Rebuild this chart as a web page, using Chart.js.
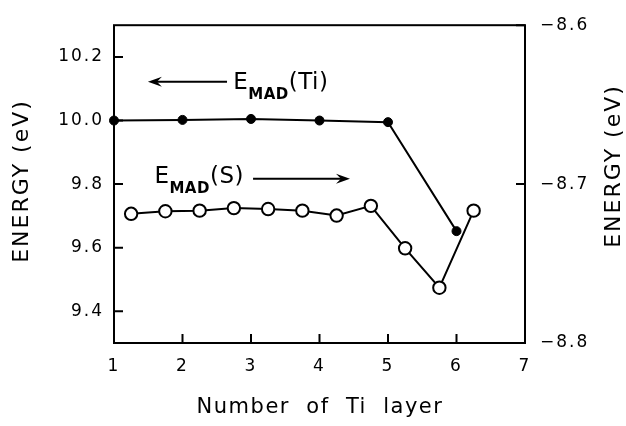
<!DOCTYPE html>
<html>
<head>
<meta charset="utf-8">
<script src="https://cdn.jsdelivr.net/npm/chart.js@4.4.1/dist/chart.umd.min.js"></script>
<style>
  html, body { margin: 0; padding: 0; background: #fff; }
  canvas { display: block; }
</style>
</head>
<body>
<canvas id="chart-energy" width="626" height="426"></canvas>
<script>
// ─── Data ──────────────────────────────────────────────────
const tiLayers = [1, 2, 3, 4, 5, 6];
const tiEnergy = [10.0, 10.002, 10.005, 10.0, 9.995, 9.652];

const sLayers = [1.25, 1.75, 2.25, 2.75, 3.25, 3.75, 4.25, 4.75, 5.25, 5.75, 6.25];
const sEnergy = [-8.7187, -8.7171, -8.7167, -8.7151, -8.7157, -8.7167, -8.7198, -8.7137, -8.7404, -8.7652, -8.7167];

const xTicks = [1, 2, 3, 4, 5, 6, 7];
const leftTicks = [9.4, 9.6, 9.8, 10.0, 10.2];
const rightTicks = [-8.8, -8.7, -8.6];

const FONT = "'DejaVu Sans', sans-serif";

function fmt(v) {
    return (v < 0 ? '\u2212' : '') + Math.abs(v).toFixed(1);
}

// ─── Helpers for the labels ────────────────────────────────
function drawMadLabel(ctx, x, y, tail) {
    ctx.textAlign = 'left';
    ctx.textBaseline = 'alphabetic';
    ctx.letterSpacing = '0.5px';
    ctx.font = '23px ' + FONT;
    ctx.fillText('E', x, y);
    let w = ctx.measureText('E').width;
    ctx.font = 'bold 15px ' + FONT;
    ctx.fillText('MAD', x + w, y + 10);
    w += ctx.measureText('MAD').width;
    ctx.font = '23px ' + FONT;
    ctx.fillText(tail, x + w, y);
}

function drawArrow(ctx, tailX, headX, y) {
    const dir = headX > tailX ? 1 : -1;
    ctx.beginPath();
    ctx.moveTo(tailX, y);
    ctx.lineTo(headX - dir * 6, y);
    ctx.lineWidth = 2;
    ctx.stroke();
    ctx.beginPath();
    ctx.moveTo(headX, y);
    ctx.lineTo(headX - dir * 14, y - 5);
    ctx.lineTo(headX - dir * 9, y);
    ctx.lineTo(headX - dir * 14, y + 5);
    ctx.closePath();
    ctx.fill();
}

// ─── Frame, inward ticks, titles and annotations ───────────
const framePlugin = {
    id: 'frame',
    beforeDraw(chart) {
        chart.ctx.letterSpacing = '2px';
    },
    beforeDatasetsDraw(chart) {
        const { ctx, chartArea: a, scales } = chart;
        ctx.save();
        ctx.strokeStyle = '#000';
        ctx.lineWidth = 2;
        ctx.strokeRect(a.left, a.top, a.right - a.left, a.bottom - a.top);

        ctx.beginPath();
        scales.x.ticks.forEach(t => {
            const px = scales.x.getPixelForValue(t.value);
            ctx.moveTo(px, a.bottom);
            ctx.lineTo(px, a.bottom - 9);
        });
        scales.y.ticks.forEach(t => {
            const py = scales.y.getPixelForValue(t.value);
            ctx.moveTo(a.left, py);
            ctx.lineTo(a.left + 9, py);
        });
        scales.y2.ticks.forEach(t => {
            const py = scales.y2.getPixelForValue(t.value);
            ctx.moveTo(a.right, py);
            ctx.lineTo(a.right - 9, py);
        });
        ctx.stroke();
        ctx.restore();
    },
    afterDraw(chart) {
        const { ctx, scales } = chart;
        const x = scales.x, y = scales.y;
        ctx.save();
        ctx.fillStyle = '#000';
        ctx.strokeStyle = '#000';

        // axis titles
        ctx.font = '22px ' + FONT;
        ctx.letterSpacing = '2px';
        ctx.textAlign = 'center';
        ctx.textBaseline = 'alphabetic';
        ctx.save();
        ctx.translate(28, 181);
        ctx.rotate(-Math.PI / 2);
        ctx.fillText('ENERGY (eV)', 0, 0);
        ctx.restore();
        ctx.save();
        ctx.translate(620, 166);
        ctx.rotate(-Math.PI / 2);
        ctx.fillText('ENERGY (eV)', 0, 0);
        ctx.restore();

        ctx.font = '21px ' + FONT;
        ctx.letterSpacing = '1.5px';
        ctx.fillText('Number  of  Ti  layer', 320, 413);

        // E_MAD labels with their axis arrows
        drawMadLabel(ctx, x.getPixelForValue(2.74), y.getPixelForValue(10.099), '(Ti)');
        drawArrow(ctx, x.getPixelForValue(2.65), x.getPixelForValue(1.495), y.getPixelForValue(10.122));

        drawMadLabel(ctx, x.getPixelForValue(1.59), y.getPixelForValue(9.805), '(S)');
        drawArrow(ctx, x.getPixelForValue(3.03), x.getPixelForValue(4.445), y.getPixelForValue(9.817));
        ctx.restore();
    }
};

// ─── Chart ─────────────────────────────────────────────────
const tickFont = { family: FONT, size: 17 };

new Chart(document.getElementById('chart-energy'), {
    type: 'line',
    data: {
        datasets: [
            {
                label: 'E_MAD(Ti)',
                data: tiLayers.map((v, i) => ({ x: v, y: tiEnergy[i] })),
                yAxisID: 'y',
                borderColor: '#000',
                borderWidth: 2,
                pointRadius: 4.5,
                pointBorderWidth: 1,
                pointBackgroundColor: '#000',
                pointBorderColor: '#000',
                tension: 0,
                clip: false
            },
            {
                label: 'E_MAD(S)',
                data: sLayers.map((v, i) => ({ x: v, y: sEnergy[i] })),
                yAxisID: 'y2',
                borderColor: '#000',
                borderWidth: 2,
                pointRadius: 6.2,
                pointBorderWidth: 2,
                pointBackgroundColor: '#fff',
                pointBorderColor: '#000',
                tension: 0,
                clip: false
            }
        ]
    },
    options: {
        responsive: false,
        animation: false,
        layout: { padding: { top: 14 } },
        plugins: {
            legend: { display: false },
            tooltip: { enabled: false }
        },
        scales: {
            x: {
                type: 'linear',
                min: 1,
                max: 7,
                grid: { display: false, drawTicks: false },
                border: { display: false },
                afterBuildTicks: s => { s.ticks = xTicks.map(v => ({ value: v })); },
                afterFit: s => { s.height = 83; },
                ticks: { color: '#000', font: tickFont, padding: 13, maxRotation: 0, callback: v => String(v) }
            },
            y: {
                position: 'left',
                min: 9.3,
                max: 10.3,
                grid: { display: false, drawTicks: false },
                border: { display: false },
                afterBuildTicks: s => { s.ticks = leftTicks.map(v => ({ value: v })); },
                afterFit: s => { s.width = 114; },
                ticks: { color: '#000', font: tickFont, padding: 10, callback: v => fmt(v) }
            },
            y2: {
                position: 'right',
                min: -8.8,
                max: -8.6,
                grid: { display: false, drawTicks: false },
                border: { display: false },
                afterBuildTicks: s => { s.ticks = rightTicks.map(v => ({ value: v })); },
                afterFit: s => { s.width = 101; },
                ticks: { color: '#000', font: tickFont, padding: 15, callback: v => fmt(v) }
            }
        }
    },
    plugins: [framePlugin]
});
</script>
</body>
</html>
